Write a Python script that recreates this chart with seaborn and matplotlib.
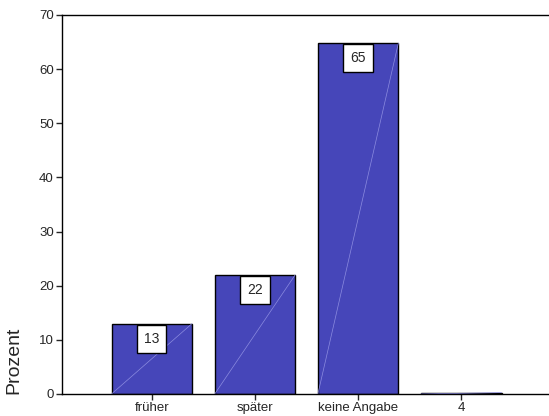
import pandas as pd
import numpy as np
import matplotlib
matplotlib.use('Agg')
import matplotlib.pyplot as plt
import seaborn as sns

# ========== DATEN ==========
kategorien = ['früher', 'später', 'keine Angabe', '4']
prozent = [13, 22, 64.8, 0.25]
beschriftung = ['13', '22', '65', '']

df = pd.DataFrame({'Kategorie': kategorien, 'Prozent': prozent})

sns.set_style('white')
plt.rcParams['font.family'] = ['Liberation Sans', 'DejaVu Sans']

fig = plt.figure(figsize=(5.49, 4.16), dpi=100)
ax = fig.add_axes([0.113, 0.053, 0.887, 0.911])

sns.barplot(data=df, x='Kategorie', y='Prozent', color='#4646B9', saturation=1,
            width=0.78, edgecolor='black', linewidth=1.0, ax=ax)

# helle Diagonale in jedem Balken (SPSS-Verlauf)
for p in ax.patches:
    x0, y0 = p.get_x(), p.get_y()
    w, h = p.get_width(), p.get_height()
    ax.plot([x0, x0 + w], [y0, y0 + h], color='#8C8CE0', lw=0.5, zorder=3)

# Wertebeschriftung
for p, txt in zip(ax.patches, beschriftung):
    if txt:
        ax.text(p.get_x() + p.get_width() / 2, p.get_height() - 1.5, txt,
                ha='center', va='top', fontsize=10, zorder=5,
                bbox=dict(boxstyle='square,pad=0.5', fc='white', ec='black', lw=1))

ax.set_ylim(0, 70)
ax.set_xlim(-0.87, 3.85)
ax.set_yticks(range(0, 71, 10))
ax.set_xlabel('')
ax.set_ylabel('Prozent', fontsize=14, loc='bottom', labelpad=12)
ax.tick_params(axis='both', direction='out', length=4, width=1, labelsize=9.5,
               left=True, bottom=True, pad=2)
for s in ['left', 'top', 'bottom']:
    ax.spines[s].set_visible(True)
    ax.spines[s].set_color('black')
    ax.spines[s].set_linewidth(1)
ax.spines['right'].set_visible(False)

plt.savefig('out.png', dpi=100)
